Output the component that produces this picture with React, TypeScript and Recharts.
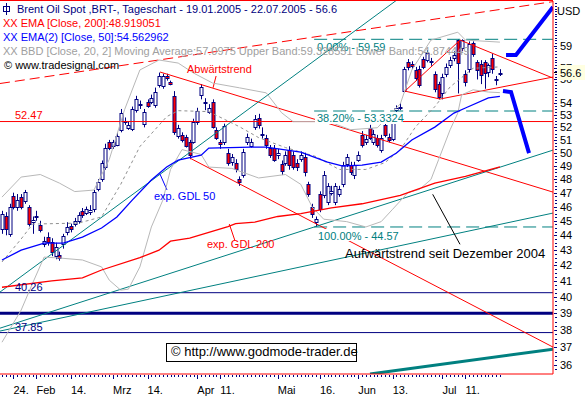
import React from "react";
import { ComposedChart, Bar, Line, XAxis, YAxis, ReferenceLine } from "recharts";

// daily candles, Brent Oil Spot 19.01.2005 - 22.07.2005
const opens = [
  44.43, 45.3, 44.09, 46.73, 45.95, 46.66, 46.38, 45.95, 44.9, 45.3, 44.7, 43.41, 43.9, 43.55, 42.62, 42.68,
  43.41, 44.23, 44.63, 44.77, 44.97, 45.67, 45.53, 45.6, 45.81, 47.24, 47.97, 48.94, 50.8, 50.5, 50.63, 51.81,
  52.5, 51.97, 51.9, 53.44, 53.95, 52.29, 54.1, 54.1, 53.85, 55.53, 55.45, 56.3, 55.75, 54.6, 51.34, 51.42,
  51.2, 50.87, 50.87, 52.46, 54.68, 54.1, 53.28, 54.1, 51.81, 50.87, 50.87, 50.0, 49.32, 49.24, 47.97, 48.34,
  50.8, 50.55, 52.05, 52.78, 51.5, 51.18, 50.4, 50.4, 49.8, 49.17, 49.24, 50.24, 49.86, 49.24, 49.55, 49.7,
  47.6, 46.0, 44.9, 46.88, 46.8, 46.31, 47.0, 46.31, 46.9, 47.61, 49.17, 49.09, 48.27, 49.47, 51.42, 50.8,
  51.97, 50.87, 51.18, 50.24, 52.21, 51.26, 51.1, 53.4, 53.6, 55.04, 57.5, 57.4, 56.83, 56.91, 57.8, 57.71,
  57.6, 56.48, 55.6, 54.85, 56.48, 57.27, 57.9, 59.5, 58.8, 56.5, 56.91, 59.25, 57.5, 57.4, 57.5, 56.65,
  57.9, 56.0, 56.48,
];
const highs = [
  45.7, 45.6, 46.2, 47.0, 46.9, 46.9, 47.2, 46.1, 45.3, 45.7, 45.0, 43.9, 44.2, 43.8, 43.5, 42.9,
  44.1, 44.9, 44.8, 45.2, 45.6, 45.9, 46.0, 46.1, 47.2, 48.0, 49.4, 50.7, 51.0, 51.0, 51.6, 53.5,
  52.8, 52.5, 53.7, 54.6, 54.2, 53.5, 54.3, 54.7, 55.3, 56.6, 56.5, 56.5, 55.9, 55.0, 52.2, 51.6,
  51.4, 51.0, 52.7, 53.6, 55.6, 54.4, 53.9, 54.3, 52.0, 51.0, 52.3, 50.3, 49.9, 49.5, 48.2, 50.3,
  51.5, 51.1, 53.0, 53.1, 52.0, 51.4, 50.6, 50.6, 50.3, 49.4, 50.1, 50.5, 50.1, 49.5, 50.1, 50.0,
  47.8, 46.2, 45.3, 47.1, 48.6, 47.7, 47.5, 47.7, 47.5, 49.3, 49.9, 49.3, 49.3, 50.1, 51.7, 51.4,
  52.2, 51.8, 51.4, 51.4, 52.5, 51.5, 53.1, 53.8, 54.0, 57.1, 57.8, 57.6, 57.1, 57.2, 58.0, 58.6,
  57.9, 56.7, 55.8, 56.5, 57.4, 58.0, 58.5, 59.59, 59.59, 56.8, 59.4, 59.4, 57.7, 57.7, 57.7, 57.4,
  58.3, 56.3, 56.9,
];
const lows = [
  44.1, 44.0, 43.9, 45.8, 45.7, 45.8, 46.2, 44.6, 44.1, 45.0, 44.2, 43.2, 43.3, 42.6, 42.4, 42.3,
  43.1, 44.0, 44.2, 44.6, 44.8, 45.2, 45.4, 45.4, 45.6, 47.1, 47.8, 48.7, 50.2, 50.3, 50.5, 51.6,
  52.2, 51.8, 51.7, 53.2, 53.5, 52.0, 53.6, 53.9, 53.6, 55.3, 55.2, 55.9, 55.5, 51.4, 51.1, 50.8,
  50.4, 49.5, 50.7, 52.2, 54.3, 53.4, 53.1, 51.9, 51.0, 50.3, 50.6, 49.0, 49.0, 48.5, 47.5, 48.1,
  50.6, 50.4, 51.8, 51.9, 51.1, 50.3, 49.6, 49.3, 49.5, 48.3, 49.0, 48.7, 48.7, 48.6, 49.3, 48.2,
  46.7, 45.2, 44.57, 45.6, 46.6, 46.1, 46.8, 46.1, 46.7, 47.4, 48.9, 48.3, 48.0, 49.3, 50.4, 50.6,
  51.0, 50.6, 50.4, 50.0, 51.2, 50.8, 50.9, 53.2, 53.4, 54.9, 56.8, 56.9, 55.9, 55.3, 56.9, 57.5,
  57.2, 54.9, 54.3, 54.3, 56.2, 57.0, 57.6, 54.8, 58.5, 55.4, 56.6, 58.0, 56.0, 55.6, 55.2, 56.2,
  56.5, 55.5, 56.3,
];
const closes = [
  45.46, 44.43, 45.95, 45.95, 46.45, 46.0, 47.03, 44.77, 45.05, 45.35, 44.36, 43.61, 43.55, 42.88, 43.22, 42.48,
  43.95, 44.57, 44.43, 44.97, 45.39, 45.39, 45.81, 45.75, 47.03, 47.75, 49.24, 50.4, 50.4, 50.8, 51.34, 53.2,
  52.4, 52.21, 53.52, 54.35, 53.8, 53.28, 53.77, 54.43, 54.94, 56.3, 56.3, 56.1, 55.65, 51.6, 51.97, 51.02,
  50.55, 49.86, 52.46, 53.36, 55.37, 54.0, 53.6, 52.05, 51.18, 50.7, 52.13, 49.24, 49.63, 48.79, 47.75, 50.09,
  51.26, 50.87, 52.7, 52.21, 51.4, 50.63, 49.86, 49.47, 50.0, 48.57, 49.86, 49.09, 48.94, 48.87, 49.86, 48.5,
  46.9, 45.46, 45.1, 45.81, 48.34, 47.46, 47.15, 47.46, 47.24, 49.09, 49.63, 48.5, 49.09, 49.86, 50.63, 51.1,
  51.18, 51.5, 50.63, 51.18, 51.42, 51.02, 52.9, 53.6, 53.7, 56.91, 57.1, 57.18, 56.13, 55.53, 57.1, 58.34,
  57.5, 55.19, 54.5, 56.22, 57.1, 57.71, 58.16, 57.45, 59.5, 55.8, 59.2, 58.25, 56.8, 56.4, 56.6, 57.27,
  56.91, 55.96, 56.6,
];

// indicators read at candle indices: [index, value]
const ema200 = [
  [0, 40.6], [13, 41.0], [21, 41.2], [26, 41.7], [36, 42.5], [41, 43.0], [44, 43.6], [49, 43.8], [54, 44.2],
  [59, 44.6], [61, 44.8], [66, 44.9], [72, 45.3], [78, 45.5], [86, 45.9], [94, 46.2], [104, 46.8], [113, 47.7],
  [121, 48.2], [130, 48.92],
];
const ema50 = [
  [0, 42.35], [5, 43.0], [11, 43.47], [16, 43.47], [21, 43.88], [26, 44.5], [30, 45.27], [34, 46.46], [39, 47.93],
  [43, 48.9], [46, 49.43], [52, 49.81], [54, 50.36], [65, 50.44], [69, 50.44], [78, 50.05], [85, 49.28], [89, 48.98],
  [94, 49.05], [99, 49.28], [103, 49.97], [107, 50.99], [113, 52.02], [118, 53.16], [121, 53.58], [127, 54.42],
  [130, 54.56],
];
const bbUpper = [
  [0, 46.68], [5, 48.15], [10, 48.34], [15, 47.7], [19, 47.08], [24, 47.19], [28, 49.47], [32, 53.44], [36, 56.83],
  [41, 57.71], [46, 57.44], [50, 56.56], [55, 55.69], [62, 55.28], [69, 54.85], [73, 53.19], [76, 52.46], [82, 52.46],
  [86, 52.38], [91, 51.81], [98, 51.97], [104, 53.93], [107, 56.83], [112, 59.52], [119, 60.25], [121, 59.52],
  [130, 59.33],
];
const bbLower = [
  [0, 37.29], [5, 39.19], [8, 40.86], [11, 42.54], [15, 42.48], [21, 42.35], [26, 41.9], [28, 41.05], [31, 40.42],
  [33, 40.48], [36, 41.9], [39, 44.57], [42, 46.46], [44, 48.72], [47, 50.24], [52, 49.86], [54, 48.9], [60, 48.8],
  [67, 48.08], [74, 48.34], [78, 47.61], [81, 45.96], [84, 45.11], [90, 44.94], [95, 44.57], [99, 44.94], [102, 45.81],
  [106, 47.01], [109, 47.24], [112, 47.97], [114, 49.47], [117, 51.81], [119, 53.16], [120, 54.68], [123, 55.11],
  [127, 54.92], [130, 54.87],
];
const bbMid = [
  [0, 42.22], [5, 43.75], [8, 44.77], [20, 44.84], [26, 45.27], [31, 47.61], [36, 50.48], [43, 52.87], [46, 53.36],
  [54, 53.28], [62, 52.05], [67, 51.18], [74, 50.4], [82, 49.7], [88, 48.72], [95, 48.72], [100, 49.24], [104, 50.24],
  [108, 52.05], [113, 53.69], [117, 55.36], [123, 56.98], [130, 57.1],
];

// drawn trend lines: [index, price] end points
const topDashed = [[-0.52, 55.65], [143.86, 63.17]];
const downTrend = [[41.25, 56.65], [143.86, 47.04]];
const downTrendLow = [[49.09, 49.58], [143.86, 37.01]];
const triLeftUp = [[105.2, 55.0], [119.6, 59.52]];
const triTop = [[119.6, 59.52], [143.86, 56.12]];
const triLeftLow = [[105.2, 55.0], [114.36, 54.33]];
const triLow = [[114.36, 54.33], [143.86, 56.21]];
const upSteep = [[-0.52, 40.3], [103.1, 63.33]];
const upDec = [[-0.52, 38.11], [143.86, 50.2]];
const upFlat = [[-0.52, 37.94], [143.86, 45.54]];
const upLong = [[96.08, 35.5], [143.86, 36.89]];
const ptrGdl50 = [[43.08, 47.2], [41.25, 48.37]];
const ptrGdl200 = [[60.83, 43.63], [59.35, 44.77]];
const ptrAuf = [[112.45, 46.88], [119.58, 43.39]];
const ptrAbw = [[55.9, 56.3], [55.1, 55.28]];
const projUp = [[131.6, 58.16], [134.2, 58.16], [143.86, 62.64]];
const projDown = [[130.8, 55.0], [132.9, 54.92], [137.6, 49.97]];

const fibLevels = [59.59, 53.3324, 44.57];
const fibStart = 81.5;
const resistance = 52.47;
const supports = [40.26, 37.85];
const supportBold = 39;

const xTickIdx = [3, 9, 18, 29, 38, 51, 57, 72, 83, 93, 102, 115, 121];
const xTickText = ["24.", "Feb", "14.", "Mrz", "14.", "Apr", "11.", "Mai", "16.", "Jun", "13.", "Jul", "11."];
const yLabeled = [36, 37, 38, 39, 40, 41, 42, 43, 44, 45, 46, 47, 48, 49, 50, 51, 52, 53, 54, 56, 57, 59];

const candles = closes.map((c, i) => ({
  i,
  open: opens[i],
  high: highs[i],
  low: lows[i],
  close: c,
  range: [lows[i], highs[i]],
}));

const yTicks: number[] = [];
for (let v = 35.75; v <= 63; v += 0.25) yTicks.push(v);

const pts = (arr: number[][]) => arr.map(([i, v]) => ({ i, v }));
const seg = (arr: number[][]) => arr.map(([x, y]) => ({ x, y }));

const FONT = "'Liberation Sans', Arial, sans-serif";
const NAVY = "#000080";
const TEAL = "#008080";

function Candle(props: any) {
  const { x, y, width, height, payload } = props;
  if (height == null || isNaN(y)) return null;
  const cx = Math.round(x + width / 2) + 0.5;
  const lh = Math.log(payload.high);
  const span = lh - Math.log(payload.low);
  const py = (v: number) => y + (span > 0 ? ((lh - Math.log(v)) / span) * height : 0);
  const top = Math.round(py(Math.max(payload.open, payload.close))) + 0.5;
  const bot = Math.round(py(Math.min(payload.open, payload.close))) + 0.5;
  const up = payload.close >= payload.open;
  return (
    <g>
      <line x1={cx} x2={cx} y1={y} y2={y + height} stroke={NAVY} />
      <rect
        x={cx - 1.5}
        y={top}
        width={3}
        height={Math.max(1, bot - top)}
        fill={up ? "#ffffff" : "#ff0000"}
        stroke={NAVY}
      />
    </g>
  );
}

function XTick(props: any) {
  const { x, y, payload } = props;
  const k = xTickIdx.indexOf(payload.value);
  const px = Math.round(x) + 0.5;
  return (
    <g>
      <line x1={px} x2={px} y1={y + 1} y2={y + (k >= 0 ? 5 : 3)} stroke={NAVY} />
      {k >= 0 && (
        <text x={x} y={y + 20} fontSize={11} fontFamily={FONT} fill="#000">
          {xTickText[k]}
        </text>
      )}
    </g>
  );
}

function YTick(props: any) {
  const { x, y, payload } = props;
  const v = payload.value;
  const labeled = yLabeled.includes(v);
  const py = Math.round(y) + 0.5;
  return (
    <g>
      <line x1={x + (labeled ? 1 : 2)} x2={x + 4} y1={py} y2={py} stroke={NAVY} />
      {labeled && (
        <text x={x + 7} y={y + 4} fontSize={11} fontFamily={FONT} fill="#000">
          {v}
        </text>
      )}
    </g>
  );
}

export default function App() {
  return (
    <div style={{ position: "absolute", left: 0, top: 0, width: 585, height: 397, background: "#fff" }}>
      <ComposedChart width={585} height={397} data={candles} margin={{ top: 1, right: 0, bottom: 0, left: 0 }}>
        <XAxis
          type="number"
          dataKey="i"
          domain={[-0.52, 143.86]}
          allowDataOverflow
          ticks={candles.map((d) => d.i)}
          interval={0}
          tick={<XTick />}
          tickLine={false}
          tickSize={0}
          tickMargin={0}
          axisLine={{ stroke: "#ff0000" }}
          height={23}
        />
        <YAxis
          orientation="right"
          type="number"
          scale="log"
          domain={[35.5, 63.23]}
          allowDataOverflow
          ticks={yTicks}
          interval={0}
          tick={<YTick />}
          tickLine={false}
          tickSize={0}
          tickMargin={0}
          axisLine={{ stroke: "#ff0000" }}
          width={32}
        />

        <ReferenceLine y={resistance} stroke="#ff0000" />
        {supports.map((v) => (
          <ReferenceLine key={v} y={v} stroke={NAVY} />
        ))}
        <ReferenceLine y={supportBold} stroke={NAVY} strokeWidth={3} />
        {fibLevels.map((v) => (
          <ReferenceLine
            key={v}
            segment={[{ x: fibStart, y: v }, { x: 143.86, y: v }]}
            stroke={TEAL}
            strokeDasharray="13 6"
            ifOverflow="hidden"
          />
        ))}

        <ReferenceLine segment={seg(topDashed)} stroke="#ff0000" strokeDasharray="10 5" ifOverflow="hidden" />
        <ReferenceLine segment={seg(downTrend)} stroke="#ff0000" ifOverflow="hidden" />
        <ReferenceLine segment={seg(downTrendLow)} stroke="#ff0000" ifOverflow="hidden" />
        <ReferenceLine segment={seg(triLeftUp)} stroke="#ff0000" ifOverflow="hidden" />
        <ReferenceLine segment={seg(triTop)} stroke="#ff0000" ifOverflow="hidden" />
        <ReferenceLine segment={seg(triLeftLow)} stroke="#ff0000" ifOverflow="hidden" />
        <ReferenceLine segment={seg(triLow)} stroke="#ff0000" ifOverflow="hidden" />
        <ReferenceLine segment={seg(upSteep)} stroke={TEAL} ifOverflow="hidden" />
        <ReferenceLine segment={seg(upDec)} stroke={TEAL} ifOverflow="hidden" />
        <ReferenceLine segment={seg(upFlat)} stroke={TEAL} ifOverflow="hidden" />
        <ReferenceLine segment={seg(upLong)} stroke={TEAL} strokeWidth={3} ifOverflow="hidden" />
        <ReferenceLine segment={seg(ptrGdl50)} stroke="#0000ff" ifOverflow="hidden" />
        <ReferenceLine segment={seg(ptrGdl200)} stroke="#ff0000" ifOverflow="hidden" />
        <ReferenceLine segment={seg(ptrAuf)} stroke="#000000" ifOverflow="hidden" />
        <ReferenceLine segment={seg(ptrAbw)} stroke="#ff0000" ifOverflow="hidden" />

        <Line data={pts(bbUpper)} dataKey="v" stroke="#b8b8b8" strokeWidth={1} dot={false} isAnimationActive={false} />
        <Line data={pts(bbLower)} dataKey="v" stroke="#b8b8b8" strokeWidth={1} dot={false} isAnimationActive={false} />
        <Line
          data={pts(bbMid)}
          dataKey="v"
          stroke="#909090"
          strokeWidth={1}
          strokeDasharray="3 3"
          dot={false}
          isAnimationActive={false}
        />
        <Line data={pts(ema200)} dataKey="v" stroke="#ff0000" strokeWidth={1.3} dot={false} isAnimationActive={false} />
        <Line data={pts(ema50)} dataKey="v" stroke="#0000ff" strokeWidth={1.3} dot={false} isAnimationActive={false} />

        <Bar dataKey="range" barSize={3} shape={<Candle />} isAnimationActive={false} />

        <Line
          data={pts(projUp)}
          dataKey="v"
          stroke="#0000ff"
          strokeWidth={4}
          dot={false}
          isAnimationActive={false}
        />
        <Line
          data={pts(projDown)}
          dataKey="v"
          stroke="#0000ff"
          strokeWidth={4}
          dot={false}
          isAnimationActive={false}
        />
      </ComposedChart>

      <svg
        width={585}
        height={397}
        style={{ position: "absolute", left: 0, top: 0, pointerEvents: "none" }}
        fontFamily={FONT}
        fontSize={11}
      >
        <line x1={0} y1={0.5} x2={553} y2={0.5} stroke="#ff0000" />

        <rect x={315} y={112} width={88} height={12} fill="#fff" />
        <text x={317} y={122} fill={TEAL}>38.20% - 53.3324</text>
        <rect x={316} y={229} width={80} height={12} fill="#fff" />
        <text x={318} y={240} fill={TEAL}>100.00% - 44.57</text>
        <text x={317} y={51} fill={TEAL}>0.00% - 59.59</text>

        <text x={187} y={73} fill="#ff0000">Abwärtstrend</text>
        <text x={15} y={119} fill="#ff0000">52.47</text>
        <text x={154} y={200} fill="#0000ff">exp. GDL 50</text>
        <text x={207} y={248} fill="#ff0000">exp. GDL 200</text>
        <text x={345} y={257.5} fontSize={13} fill="#000">Aufwärtstrend seit Dezember 2004</text>
        <text x={15} y={291} fill={NAVY}>40.26</text>
        <text x={15} y={331} fill={NAVY}>37.85</text>

        <rect x={166.5} y={343.5} width={190} height={18} fill="#fff" stroke="#000" />
        <text x={171} y={356} fontSize={13} fill="#000">© http://www.godmode-trader.de</text>

        <text x={557} y={15} fill="#000">USD</text>
        <rect x={558} y={65} width={27} height={15} fill="#ffffe1" />
        <line x1={554} x2={557} y1={72.5} y2={72.5} stroke="#000" />
        <text x={560} y={77} fill="#000">56.6</text>

        <rect x={3.5} y={6.5} width={6} height={5} fill="none" stroke={NAVY} />
        <line x1={6.5} y1={3} x2={6.5} y2={15} stroke={NAVY} />
        <text x={17} y={13} fill={NAVY}>Brent Oil Spot ,BRT-, Tageschart - 19.01.2005 - 22.07.2005 - 56.6</text>
        <text x={3} y={27} fill="#ff0000">XX EMA [Close, 200]:48.919051</text>
        <text x={3} y={41} fill="#0000ff">XX EMA(2) [Close, 50]:54.562962</text>
        <text x={3} y={55} fill="#a0a0a0">
          XX BBD [Close, 20, 2] Moving Average:57.0975 Upper Band:59.328551 Lower Band:54.874449
        </text>
        <text x={4} y={69} fill="#000">© www.tradesignal.com</text>
      </svg>
    </div>
  );
}
